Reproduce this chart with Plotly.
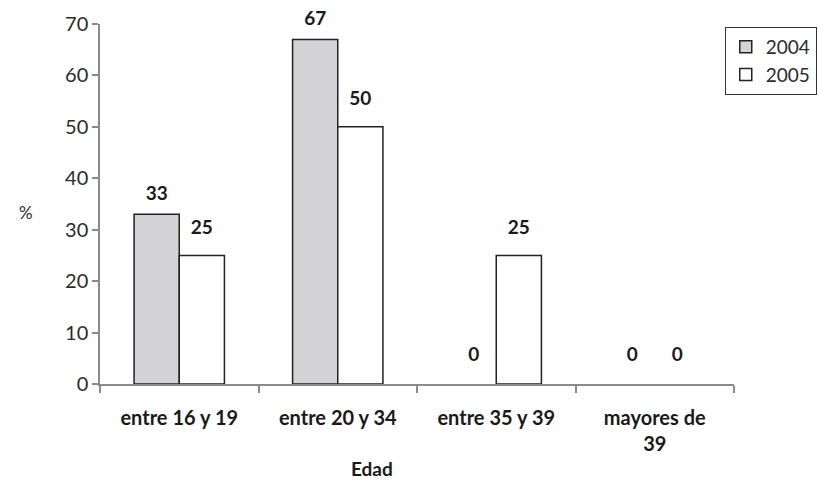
import plotly.graph_objects as go

# Age groups and percentage per year
categories = ["entre 16 y 19", "entre 20 y 34", "entre 35 y 39", "mayores de<br>39"]
years = ["2004", "2005"]
values_2004 = [33, 67, 0, 0]
values_2005 = [25, 50, 25, 0]
y_ticks = [0, 10, 20, 30, 40, 50, 60, 70]

FONT = "Lato"
TEXT = "#2b2b2b"
AXIS = "#8a8a8a"

# (name, values, fill, label lift above a bar, label lift for empty bars)
series = [
    ("2004", values_2004, "#d3d3d5", 14, 28),
    ("2005", values_2005, "#ffffff", 25, 28),
]

fig = go.Figure()

for name, vals, fill, lift, lift0 in series:
    fig.add_trace(go.Bar(
        name=name, x=categories, y=vals,
        offsetgroup=name,
        marker=dict(color=fill,
                    line=dict(color="#222222",
                              width=[1.5 if v > 0 else 0 for v in vals])),
        hoverinfo="skip",
    ))

# value labels sitting above each bar
for name, vals, fill, lift, lift0 in series:
    fig.add_trace(go.Scatter(
        x=categories, y=vals, mode="markers+text",
        offsetgroup=name,
        text=[str(v) for v in vals], textposition="top center",
        textfont=dict(family=FONT, size=19, color="#1a1a1a", weight="bold"),
        marker=dict(size=[lift if v > 0 else lift0 for v in vals], opacity=0),
        showlegend=False, hoverinfo="skip", cliponaxis=False,
    ))

fig.update_layout(
    width=818, height=481,
    margin=dict(l=100, r=84, t=24, b=97, autoexpand=False),
    paper_bgcolor="white", plot_bgcolor="white",
    barmode="group", bargap=0.43, bargroupgap=0,
    scattermode="group", scattergap=0.43,
    font=dict(family=FONT, size=19, color=TEXT),
    legend=dict(
        xref="container", yref="container",
        x=0.886, xanchor="left", y=0.944, yanchor="top",
        bordercolor="#333333", borderwidth=1, bgcolor="white",
        font=dict(family=FONT, size=19, color=TEXT),
        tracegroupgap=0, itemwidth=30,
    ),
    showlegend=True,
)

fig.update_xaxes(
    type="category", showgrid=False, zeroline=False,
    showline=True, linecolor=AXIS, linewidth=1.5,
    ticks="outside", tickson="boundaries", ticklen=7, tickcolor=AXIS, tickwidth=1.5,
    tickfont=dict(family=FONT, size=20, color="#1a1a1a", weight="bold"),
    ticklabelstandoff=15,
)
fig.update_yaxes(
    range=[0, 70], tickvals=y_ticks, showgrid=False, zeroline=False,
    showline=True, linecolor=AXIS, linewidth=1.5,
    ticks="outside", ticklen=6, tickcolor=AXIS, tickwidth=1.5,
    tickfont=dict(family=FONT, size=20, color=TEXT),
)

fig.add_annotation(text="%", xref="paper", yref="paper", x=-0.131, y=0.477,
                   showarrow=False, font=dict(family=FONT, size=17, color=TEXT))
fig.add_annotation(text="<b>Edad</b>", xref="paper", yref="paper", x=0.429, y=-0.236,
                   yanchor="middle",
                   showarrow=False, font=dict(family=FONT, size=19, color="#1a1a1a"))

fig.write_html("out.html")
